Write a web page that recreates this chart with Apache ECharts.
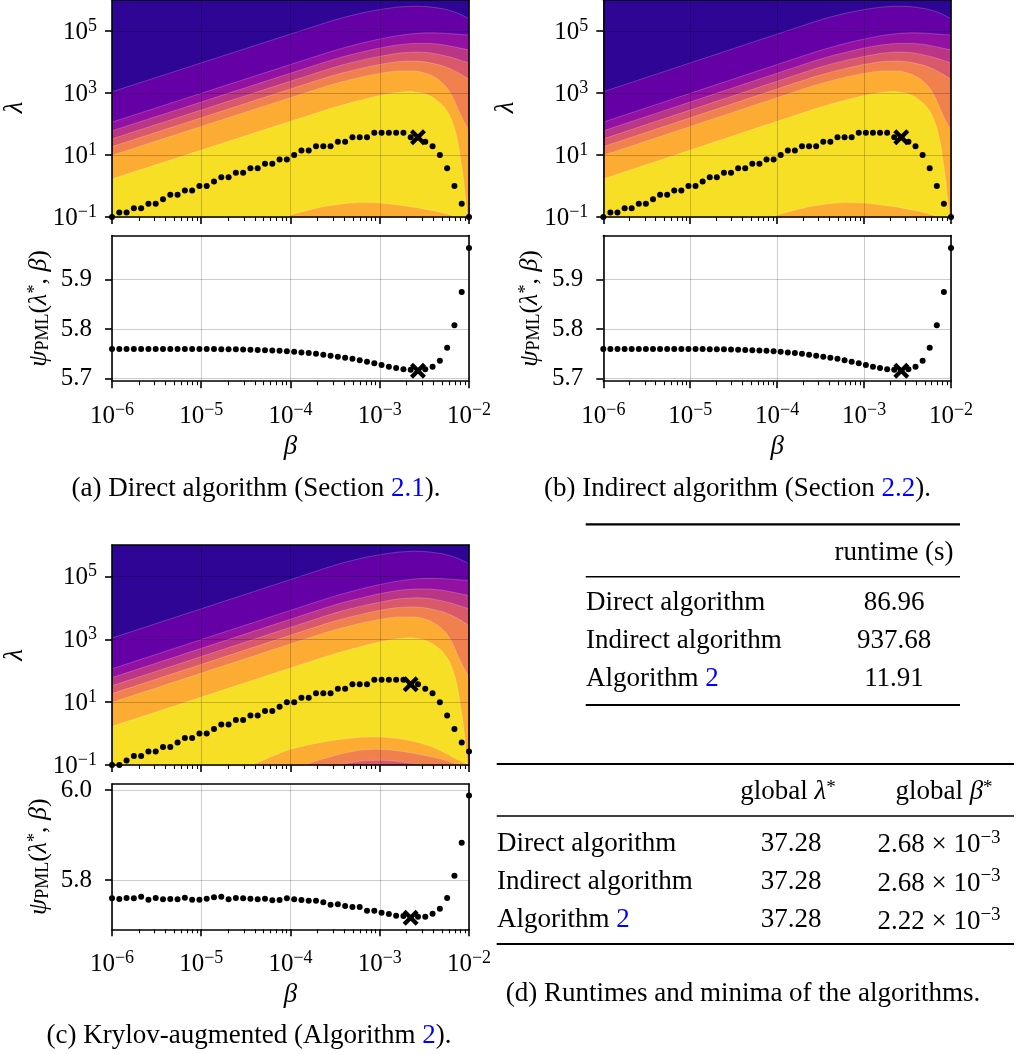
<!DOCTYPE html>
<html><head><meta charset="utf-8">
<script src="https://cdn.jsdelivr.net/npm/echarts@6/dist/echarts.min.js"></script>
<style>html,body{margin:0;padding:0;background:#fff;}#c{width:1016px;height:1054px;}</style>
</head><body><div id="c"></div>
<script>
// ---------------- data ----------------
// beta grid (50 log-spaced values, 1e-6 .. 1e-2)
const beta = [1.000e-6,1.207e-6,1.456e-6,1.758e-6,2.121e-6,2.560e-6,3.089e-6,3.728e-6,4.498e-6,5.429e-6,
  6.551e-6,7.906e-6,9.541e-6,1.151e-5,1.389e-5,1.677e-5,2.024e-5,2.442e-5,2.947e-5,3.556e-5,
  4.292e-5,5.179e-5,6.251e-5,7.543e-5,9.103e-5,1.099e-4,1.326e-4,1.600e-4,1.931e-4,2.330e-4,
  2.812e-4,3.393e-4,4.095e-4,4.942e-4,5.964e-4,7.197e-4,8.685e-4,1.048e-3,1.265e-3,1.526e-3,
  1.842e-3,2.223e-3,2.683e-3,3.237e-3,3.907e-3,4.715e-3,5.690e-3,6.866e-3,8.286e-3,1.000e-2];
// lambda* per beta, direct / indirect algorithm (identical results)
const lambdaDirect = [0.1,0.139,0.139,0.193,0.193,0.268,0.268,0.373,0.518,0.518,
  0.720,0.720,1.0,1.0,1.389,1.931,1.931,2.683,2.683,3.728,
  3.728,5.179,5.179,7.197,7.197,10.0,13.89,13.89,19.31,19.31,
  19.31,26.83,26.83,37.28,37.28,37.28,51.79,51.79,51.79,51.79,
  51.79,37.28,37.28,26.83,19.31,10.0,3.728,1.0,0.268,0.1];
const psiDirect = [5.7600,5.7600,5.7600,5.7600,5.7600,5.7600,5.7600,5.7600,5.7600,5.7600,
  5.7599,5.7598,5.7598,5.7597,5.7596,5.7594,5.7592,5.7590,5.7587,5.7583,
  5.7578,5.7573,5.7566,5.7560,5.7552,5.7540,5.7527,5.7515,5.7500,5.7483,
  5.7463,5.7443,5.7423,5.7400,5.7370,5.7342,5.7310,5.7276,5.7243,5.7215,
  5.7190,5.7180,5.7160,5.7192,5.7240,5.7360,5.7622,5.8075,5.8745,5.9630];
// lambda* per beta, Krylov-augmented (Algorithm 2)
const lambdaKrylov = [0.1,0.1,0.139,0.193,0.193,0.268,0.268,0.373,0.373,0.518,
  0.720,0.720,1.0,1.0,1.389,1.931,1.931,2.683,2.683,3.728,
  3.728,5.179,5.179,7.197,10.0,10.0,13.89,13.89,19.31,19.31,
  19.31,26.83,26.83,37.28,37.28,37.28,51.79,51.79,51.79,51.79,
  51.79,37.28,37.28,26.83,19.31,10.0,3.728,1.389,0.518,0.268];
const psiKrylov = [5.7593,5.7578,5.7600,5.7593,5.7630,5.7563,5.7600,5.7570,5.7578,5.7570,
  5.7607,5.7563,5.7563,5.7585,5.7615,5.7630,5.7570,5.7600,5.7593,5.7585,
  5.7570,5.7585,5.7548,5.7556,5.7593,5.7570,5.7556,5.7540,5.7540,5.7504,
  5.7452,5.7460,5.7422,5.7400,5.7400,5.7319,5.7319,5.7274,5.7244,5.7207,
  5.7200,5.7160,5.7185,5.7185,5.7252,5.7363,5.7600,5.8096,5.8830,5.9880];
// global minima [beta*, lambda*, psi*]
const minDirect = [2.68e-3, 37.28, 5.716];
const minIndirect = [2.68e-3, 37.28, 5.716];
const minKrylov = [2.22e-3, 37.28, 5.716];
// filled-contour band boundaries as [log10 beta, log10 lambda]
const contourB1 = [[-6,3.04],[-3.6,5.27],[-3.4,5.44],[-3.2,5.58],[-3.0,5.69],[-2.8,5.77],[-2.6,5.80],[-2.45,5.78],[-2.3,5.72],[-2.2,5.65],[-2.1,5.54],[-2.0,5.40]];
const contourB2 = [[-6,2.06],[-3.6,4.29],[-3.4,4.46],[-3.2,4.61],[-3.0,4.74],[-2.8,4.85],[-2.6,4.92],[-2.45,4.94],[-2.3,4.93],[-2.2,4.91],[-2.1,4.89],[-2.0,4.87]];
const contourB3 = [[-6,1.78],[-3.6,4.01],[-3.4,4.18],[-3.2,4.32],[-3.0,4.45],[-2.8,4.55],[-2.6,4.60],[-2.45,4.60],[-2.3,4.56],[-2.2,4.51],[-2.1,4.45],[-2.0,4.39]];
const contourB4 = [[-6,1.52],[-3.6,3.75],[-3.4,3.92],[-3.2,4.06],[-3.0,4.18],[-2.8,4.28],[-2.6,4.32],[-2.45,4.30],[-2.3,4.22],[-2.2,4.15],[-2.1,4.06],[-2.0,3.97]];
const contourB5 = [[-6,1.27],[-3.6,3.50],[-3.4,3.66],[-3.2,3.80],[-3.0,3.92],[-2.8,4.01],[-2.6,4.03],[-2.45,3.98],[-2.3,3.88],[-2.2,3.77],[-2.1,3.62],[-2.0,3.44]];
const contourB6 = [[-6,0.99],[-3.6,3.22],[-3.4,3.38],[-3.2,3.52],[-3.0,3.63],[-2.8,3.71],[-2.6,3.71],[-2.45,3.60],[-2.35,3.45],[-2.25,3.18],[-2.18,2.85],[-2.12,2.45],[-2.06,2.10],[-2.0,1.80],[-1.9,1.30]];
const contourB7 = [[-6,0.23],[-3.6,2.46],[-3.4,2.63],[-3.2,2.78],[-3.0,2.92],[-2.8,3.02],[-2.65,3.05],[-2.5,2.98],[-2.4,2.85],[-2.3,2.62],[-2.22,2.30],[-2.16,1.85],[-2.12,1.35],[-2.09,0.80],[-2.06,0.20],[-2.04,-0.35],[-2.02,-0.90],[-2.0,-1.5]];
const humpDirect1 = [[-4.3,-1.3],[-4.0,-0.94],[-3.8,-0.78],[-3.6,-0.65],[-3.4,-0.57],[-3.2,-0.535],[-3.0,-0.55],[-2.8,-0.61],[-2.6,-0.69],[-2.4,-0.80],[-2.25,-0.90],[-2.12,-1.02],[-1.95,-1.3]];
const humpKrylov1 = [[-4.7,-1.3],[-4.43,-1.0],[-4.2,-0.72],[-4.0,-0.50],[-3.8,-0.36],[-3.6,-0.25],[-3.4,-0.17],[-3.2,-0.12],[-3.0,-0.11],[-2.8,-0.16],[-2.6,-0.26],[-2.4,-0.44],[-2.25,-0.64],[-2.12,-0.84],[-2.0,-1.0],[-1.9,-1.2]];
const humpKrylov2 = [[-4.0,-1.2],[-3.84,-1.0],[-3.65,-0.82],[-3.45,-0.66],[-3.25,-0.54],[-3.05,-0.50],[-2.85,-0.53],[-2.65,-0.61],[-2.45,-0.72],[-2.3,-0.82],[-2.12,-1.0],[-2.0,-1.2]];
const humpKrylov3 = [[-3.6,-1.15],[-3.46,-1.0],[-3.3,-0.91],[-3.15,-0.86],[-2.98,-0.85],[-2.82,-0.88],[-2.65,-0.94],[-2.53,-1.0],[-2.4,-1.15]];
// tick values
const xMajor = [1e-6,1e-5,1e-4,1e-3,1e-2];
const lamTicks = [0.1,10,1000,100000];
const psiTicksAB = [5.7,5.8,5.9];
const psiTicksC = [5.8,6.0];
// tables
const algNames = ['Direct algorithm','Indirect algorithm','Algorithm '];
const runtimes = ['86.96','937.68','11.91'];
const globalLambda = ['37.28','37.28','37.28'];
const globalBetaMant = ['2.68','2.68','2.22'];
const globalBetaExp = ['\u22123','\u22123','\u22123'];

// ---------------- style ----------------
const FONT = 'Liberation Serif';
const bandColors = ['#2f0596','#6500a7','#9311a2','#bb3587','#d9596a','#f0804e','#fcab33','#f7df26'];
const xMinor = [];
for (let d = -6; d < -2; d++) for (let m = 2; m <= 9; m++) xMinor.push(m * Math.pow(10, d));
function powLabel(v) { const e = Math.round(Math.log10(v)); return '{b|10}{e|' + (e < 0 ? '\u2212' + (-e) : e) + '}'; }
const powRich = {
  b: {fontFamily: FONT, fontSize: 25, lineHeight: 28, verticalAlign: 'bottom', color: '#000'},
  e: {fontFamily: FONT, fontSize: 18, lineHeight: 18, verticalAlign: 'top', color: '#000'}
};
const GRIDC = 'rgba(0,0,0,0.2)';
const XSYM = 'path://M1.9,0L5,3.1L8.1,0L10,1.9L6.9,5L10,8.1L8.1,10L5,6.9L1.9,10L0,8.1L3.1,5L0,1.9Z';

const panels = [
  {left: 112, width: 357, cTop: -2.3, cH: 219.3, sTop: 235.5, sH: 145.7, lam: lambdaDirect, psi: psiDirect, star: minDirect,
   psiMin: 5.695, psiMax: 5.988, psiTicks: psiTicksAB, humps: [humpDirect1]},
  {left: 603.3, width: 347.7, cTop: -2.3, cH: 219.3, sTop: 235.5, sH: 145.7, lam: lambdaDirect, psi: psiDirect, star: minIndirect,
   psiMin: 5.695, psiMax: 5.988, psiTicks: psiTicksAB, humps: [humpDirect1]},
  {left: 112, width: 357, cTop: 545, cH: 220, sTop: 784, sH: 145.3, lam: lambdaKrylov, psi: psiKrylov, star: minKrylov,
   psiMin: 5.6904, psiMax: 6.0133, psiTicks: psiTicksC, humps: [humpKrylov1, humpKrylov2, humpKrylov3]}
];
const boundaries = [contourB1, contourB2, contourB3, contourB4, contourB5, contourB6, contourB7];
const humpColors = [bandColors[6], bandColors[5], bandColors[4]];

const grids = [], xAxes = [], yAxes = [], series = [];
const lineAx = {show: true, onZero: false, lineStyle: {color: '#000', width: 1.6}};
const dotStyle = {color: '#000', opacity: 1};
panels.forEach((P) => {
  [0, 1].forEach(kind => {
    const gi = grids.length;
    grids.push({left: P.left, width: P.width, top: kind ? P.sTop : P.cTop, height: kind ? P.sH : P.cH,
      show: kind === 0, backgroundColor: bandColors[0], borderWidth: 0});
    xAxes.push({type: 'log', gridIndex: gi, min: 1e-6, max: 1e-2, position: 'bottom', z: 5,
      axisLine: lineAx,
      axisTick: {show: true, length: 7, lineStyle: {color: '#000', width: 1.6}, customValues: xMajor},
      axisLabel: {show: kind === 1, customValues: xMajor, formatter: powLabel, rich: powRich, margin: 20},
      splitLine: {show: true, lineStyle: {color: GRIDC, width: 1}}});
    xAxes.push({type: 'log', gridIndex: gi, min: 1e-6, max: 1e-2, position: 'bottom', z: 5,
      axisLine: {show: false},
      axisTick: {show: true, length: 4, lineStyle: {color: '#000', width: 1.1}, customValues: xMinor},
      axisLabel: {show: false}, splitLine: {show: false}});
    xAxes.push({type: 'log', gridIndex: gi, min: 1e-6, max: 1e-2, position: 'top', z: 10,
      axisLine: lineAx, axisTick: {show: false}, axisLabel: {show: false}, splitLine: {show: false}});
    const xi = gi * 3, yi = gi * 2;
    if (kind === 0) {
      yAxes.push({type: 'log', gridIndex: gi, min: 0.1, max: 1e6, position: 'left', z: 5,
        axisLine: lineAx,
        axisTick: {show: true, length: 7, lineStyle: {color: '#000', width: 1.6}, customValues: lamTicks},
        axisLabel: {customValues: lamTicks, formatter: powLabel, rich: powRich, margin: 15},
        splitLine: {show: true, lineStyle: {color: GRIDC, width: 1}}});
      yAxes.push({type: 'log', gridIndex: gi, min: 0.1, max: 1e6, position: 'right', z: 10,
        axisLine: lineAx, axisTick: {show: false}, axisLabel: {show: false}, splitLine: {show: false}});
      const addBand = (B, color) => series.push({type: 'line', xAxisIndex: xi, yAxisIndex: yi, z: 2, silent: true,
        symbol: 'none', smooth: 0.2, clip: true,
        data: B.map(p => [Math.pow(10, p[0]), Math.pow(10, p[1])]),
        lineStyle: {width: 0.8, color: 'rgba(255,255,255,0.25)'},
        areaStyle: {color: color, opacity: 1, origin: 'start'}});
      boundaries.forEach((B, k) => addBand(B, bandColors[k + 1]));
      P.humps.forEach((H, k) => addBand(H, humpColors[k]));
      series.push({type: 'scatter', xAxisIndex: xi, yAxisIndex: yi, z: 8, clip: true, silent: true,
        symbolSize: 6, itemStyle: dotStyle, data: beta.map((b, i) => [b, P.lam[i]])});
      series.push({type: 'scatter', xAxisIndex: xi, yAxisIndex: yi, z: 9, clip: true, silent: true,
        symbol: XSYM, symbolSize: 16, itemStyle: dotStyle, data: [[P.star[0], P.star[1]]]});
    } else {
      yAxes.push({type: 'value', gridIndex: gi, min: P.psiMin, max: P.psiMax, position: 'left', z: 5,
        axisLine: lineAx,
        axisTick: {show: true, length: 7, lineStyle: {color: '#000', width: 1.6}, customValues: P.psiTicks},
        axisLabel: {customValues: P.psiTicks, formatter: v => v.toFixed(1), fontFamily: FONT, fontSize: 25, color: '#000', margin: 20},
        splitLine: {show: true, lineStyle: {color: GRIDC, width: 1}}});
      yAxes.push({type: 'value', gridIndex: gi, min: P.psiMin, max: P.psiMax, position: 'right', z: 10,
        axisLine: lineAx, axisTick: {show: false}, axisLabel: {show: false}, splitLine: {show: false}});
      series.push({type: 'scatter', xAxisIndex: xi, yAxisIndex: yi, z: 8, clip: true, silent: true,
        symbolSize: 6, itemStyle: dotStyle, data: beta.map((b, i) => [b, P.psi[i]])});
      series.push({type: 'scatter', xAxisIndex: xi, yAxisIndex: yi, z: 9, clip: true, silent: true,
        symbol: XSYM, symbolSize: 16, itemStyle: dotStyle, data: [[P.star[0], P.star[2]]]});
    }
  });
});

// ---------------- text (labels, captions, tables) ----------------
const T = 27;
const baseRich = {
  n: {fontFamily: FONT, fontSize: T, fill: '#000'},
  bl: {fontFamily: FONT, fontSize: T, fill: '#0000ff'},
  i: {fontFamily: FONT, fontSize: T, fontStyle: 'italic', fill: '#000'},
  p: {fontFamily: FONT, fontSize: 19, fill: '#000', verticalAlign: 'top', lineHeight: 19},
  m: {fontFamily: FONT, fontSize: T, fill: '#000', verticalAlign: 'bottom', lineHeight: 30},
  e: {fontFamily: FONT, fontSize: 19, fill: '#000', verticalAlign: 'top', lineHeight: 19}
};
function txt(x, y, text, align, extra) {
  return Object.assign({type: 'text', x: x, y: y, silent: true, z: 20,
    style: {text: text, fontFamily: FONT, fontSize: T, fill: '#000', align: align || 'center', verticalAlign: 'middle', rich: baseRich}}, extra || {});
}
const psiRich = {
  i: {fontFamily: FONT, fontStyle: 'italic', fontSize: 26, lineHeight: 26, verticalAlign: 'top', fill: '#000'},
  n: {fontFamily: FONT, fontSize: 26, lineHeight: 26, verticalAlign: 'top', fill: '#000'},
  s: {fontFamily: FONT, fontSize: 18, lineHeight: 18, padding: [10, 0, 0, 0], verticalAlign: 'bottom', fill: '#000'},
  p: {fontFamily: FONT, fontSize: 18, lineHeight: 18, verticalAlign: 'top', fill: '#000'}
};
const psiText = '{i|\u03c8}{s|PML}{n|(}{i|\u03bb}{p|*}{n|, }{i|\u03b2}{n|)}';
function rotLabel(x, y, text, rich) {
  return {type: 'text', x: x, y: y, rotation: Math.PI / 2, silent: true, z: 20,
    style: {text: text, fontFamily: FONT, fontSize: 27, fontStyle: 'italic', fill: '#000', align: 'center', verticalAlign: 'middle', rich: rich}};
}
const graphics = [];
panels.forEach((P) => {
  const cx = P.left + P.width / 2;
  graphics.push(rotLabel(P.left - 97, P.cTop + P.cH / 2, '\u03bb'));
  graphics.push(rotLabel(P.left - 73, P.sTop + P.sH / 2, psiText, psiRich));
  graphics.push(txt(cx, P.sTop + P.sH + 65.5, '{i|\u03b2}'));
});
graphics.push(txt(256, 489, '(a) Direct algorithm (Section {bl|2.1}).'));
graphics.push(txt(737.5, 489, '(b) Indirect algorithm (Section {bl|2.2}).'));
graphics.push(txt(249, 1036, '(c) Krylov-augmented (Algorithm {bl|2}).'));
graphics.push(txt(743, 993.5, '(d) Runtimes and minima of the algorithms.'));
function rule(x1, x2, y, w) { return {type: 'line', silent: true, z: 20, shape: {x1: x1, y1: y, x2: x2, y2: y}, style: {stroke: '#000', lineWidth: w}}; }
// table 1
graphics.push(rule(585.7, 960, 524.3, 2.2), rule(585.7, 960, 576.7, 1.4), rule(585.7, 960, 705, 2.2));
graphics.push(txt(894, 552.5, 'runtime (s)'));
const t1y = [603.3, 640.8, 679.2];
algNames.forEach((n, r) => {
  graphics.push(txt(586, t1y[r], r === 2 ? n + '{bl|2}' : n, 'left'));
  graphics.push(txt(894, t1y[r], runtimes[r]));
});
// table 2
graphics.push(rule(496.7, 1014, 764, 2.2), rule(496.7, 1014, 816, 1.4), rule(496.7, 1014, 944, 2.2));
graphics.push(txt(788, 791.7, 'global {i|\u03bb}{p|*}'));
graphics.push(txt(944, 791.7, 'global {i|\u03b2}{p|*}'));
const t2y = [843.8, 882, 920.3];
algNames.forEach((n, r) => {
  graphics.push(txt(497, t2y[r], r === 2 ? n + '{bl|2}' : n, 'left'));
  graphics.push(txt(791, t2y[r], globalLambda[r]));
  graphics.push(txt(939, t2y[r], '{m|' + globalBetaMant[r] + ' \u00d7 10}{e|' + globalBetaExp[r] + '}'));
});

const chart = echarts.init(document.getElementById('c'), null, {renderer: 'canvas'});
chart.setOption({
  animation: false,
  backgroundColor: '#fff',
  grid: grids, xAxis: xAxes, yAxis: yAxes, series: series,
  graphic: {elements: graphics}
});
</script></body></html>
